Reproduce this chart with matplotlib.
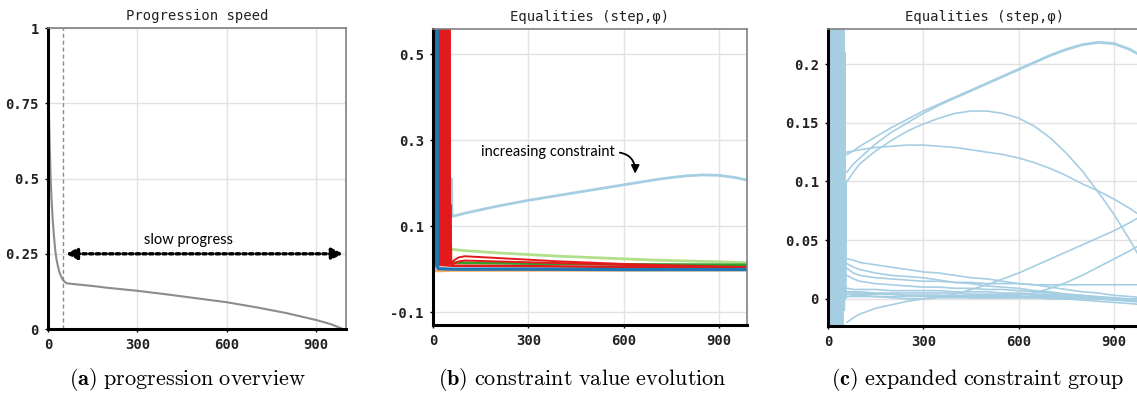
import matplotlib
matplotlib.use("Agg")
import matplotlib.pyplot as plt

plt.rcParams["mathtext.fontset"] = "cm"
MONO = "DejaVu Sans Mono"
SANS = "Lato"

# ---- (a) progression speed ----
prog_step = [0, 2, 4, 6, 9, 12, 16, 20, 24, 28, 33, 38, 44, 50, 56, 63, 80, 100, 150, 200,
             300, 400, 500, 600, 700, 800, 900, 950, 990]
prog_speed = [0.87, 0.78, 0.68, 0.6, 0.5, 0.43, 0.36, 0.31, 0.265, 0.235, 0.21, 0.19, 0.175,
              0.163, 0.157, 0.152, 0.15, 0.148, 0.143, 0.137, 0.127, 0.115, 0.102, 0.089,
              0.072, 0.053, 0.03, 0.016, 0.0]
slow_start = 52
slow_level = 0.25

# ---- (b) constraint values ----
red1_x = [16, 18, 20, 22, 24, 26, 28, 30, 32, 34, 36, 38, 40, 42, 44, 46, 48, 50, 52, 54,
          58, 65, 80, 100, 150, 200, 300, 400, 500, 600, 700, 800, 900, 988]
red1_y = [0.60, 0.02, 0.60, 0.03, 0.60, 0.02, 0.60, 0.01, 0.60, 0.02, 0.60, 0.015, 0.60, 0.02,
          0.60, 0.01, 0.60, 0.015, 0.60, 0.012,
          0.012, 0.02, 0.027, 0.03, 0.028, 0.026, 0.022, 0.018, 0.015, 0.012, 0.01, 0.008,
          0.006, 0.005]
red2_x = [17, 19, 21, 23, 25, 27, 29, 31, 33, 35, 37, 39, 41, 43, 45, 47, 49, 51, 53, 55,
          58, 80, 100, 200, 300, 500, 700, 988]
red2_y = [0.02, 0.60, 0.01, 0.60, 0.02, 0.60, 0.015, 0.60, 0.02, 0.60, 0.01, 0.60, 0.14, 0.60,
          0.02, 0.60, 0.12, 0.60, 0.015, 0.15,
          0.01, 0.018, 0.02, 0.018, 0.016, 0.012, 0.008, 0.004]
red3_x = [20, 60, 300, 600, 988]
red3_y = [0.01, 0.008, 0.007, 0.005, 0.003]
blue_x = [0, 2, 4, 6, 8, 10, 12, 14, 18, 60, 300, 600, 988]
blue_y = [0.60, 0.05, 0.60, 0.02, 0.60, 0.01, 0.60, 0.005, 0.001, 0.0, 0.0, -0.001, -0.001]
lgreen_x = [16, 18, 20, 22, 26, 40, 60, 100, 200, 300, 400, 500, 600, 700, 800, 900, 988]
lgreen_y = [0.01, 0.13, 0.02, 0.05, 0.048, 0.047, 0.046, 0.043, 0.038, 0.034, 0.03, 0.027,
            0.024, 0.021, 0.019, 0.017, 0.015]
green_x = [0, 60, 300, 600, 988]
green_y = [0.014, 0.015, 0.013, 0.011, 0.01]
orange_x = [0, 3, 6, 10, 20, 60, 988]
orange_y = [0.11, 0.03, 0.0, -0.004, -0.004, -0.003, -0.002]
lblue_early_x = [5, 7, 9, 11, 13, 20, 30, 44, 46, 48, 50, 52, 54, 56, 58]
lblue_early_y = [0.60, 0.1, 0.60, 0.01, 0.15, 0.01, 0.01, 0.02, 0.13, 0.02, 0.21, 0.12, 0.20,
                 0.12, 0.21]

# ---- (c) expanded group (light blue) ----
c_x = [60, 80, 100, 150, 200, 250, 300, 350, 400, 450, 500, 550, 600, 650, 700, 750, 800,
       850, 900, 950, 988]
rise = [0.123, 0.126, 0.13, 0.138, 0.146, 0.153, 0.16, 0.166, 0.172, 0.178, 0.184, 0.19,
        0.196, 0.202, 0.208, 0.213, 0.217, 0.219, 0.218, 0.213, 0.207]
rise_twin = [0.108, 0.115, 0.12, 0.132, 0.142, 0.15, 0.158, 0.165, 0.171, 0.177, 0.183, 0.189,
             0.195, 0.201, 0.207, 0.212, 0.216, 0.218, 0.217, 0.212, 0.206]
arch = [0.1, 0.108, 0.115, 0.126, 0.135, 0.143, 0.149, 0.154, 0.158, 0.16, 0.16, 0.158, 0.154,
        0.147, 0.137, 0.124, 0.109, 0.091, 0.072, 0.05, 0.032]
flat = [0.125, 0.126, 0.127, 0.129, 0.13, 0.131, 0.131, 0.13, 0.129, 0.127, 0.125, 0.123,
        0.12, 0.116, 0.111, 0.105, 0.098, 0.092, 0.085, 0.077, 0.07]
late_rise1 = [0.004, 0.003, 0.003, 0.002, 0.001, 0.0, 0.0, 0.002, 0.004, 0.008, 0.012, 0.017,
              0.022, 0.028, 0.034, 0.04, 0.046, 0.052, 0.058, 0.065, 0.071]
late_rise2 = [0.006, 0.005, 0.005, 0.004, 0.004, 0.003, 0.003, 0.003, 0.002, 0.002, 0.002,
              0.002, 0.003, 0.005, 0.009, 0.014, 0.02, 0.027, 0.034, 0.041, 0.047]
decay_a = [0.034, 0.033, 0.031, 0.029, 0.027, 0.025, 0.023, 0.022, 0.02, 0.018, 0.017, 0.015,
           0.013, 0.012, 0.01, 0.008, 0.006, 0.005, 0.003, 0.002, 0.001]
decay_b = [0.03, 0.027, 0.025, 0.022, 0.02, 0.019, 0.018, 0.016, 0.014, 0.013, 0.011, 0.01,
           0.009, 0.007, 0.006, 0.004, 0.003, 0.001, 0.0, -0.001, -0.002]
decay_c = [0.026, 0.022, 0.02, 0.018, 0.017, 0.016, 0.015, 0.015, 0.014, 0.014, 0.013, 0.013,
           0.013, 0.012, 0.012, 0.012, 0.012, 0.012, 0.012, 0.012, 0.012]
decay_d = [0.02, 0.017, 0.015, 0.013, 0.012, 0.011, 0.01, 0.01, 0.009, 0.009, 0.008, 0.008,
           0.007, 0.006, 0.005, 0.004, 0.003, 0.002, 0.001, 0.0, -0.001]
band1 = [0.009, 0.008, 0.008, 0.008, 0.007, 0.007, 0.007, 0.007, 0.006, 0.006, 0.006, 0.005,
         0.005, 0.004, 0.004, 0.003, 0.002, 0.001, 0.0, -0.001, -0.002]
band2 = [0.006, 0.006, 0.006, 0.005, 0.005, 0.005, 0.005, 0.005, 0.005, 0.004, 0.004, 0.004,
         0.004, 0.003, 0.003, 0.002, 0.001, 0.0, -0.001, -0.002, -0.003]
band3 = [0.004, 0.004, 0.004, 0.004, 0.004, 0.003, 0.003, 0.003, 0.003, 0.003, 0.003, 0.003,
         0.002, 0.002, 0.002, 0.001, 0.001, 0.0, 0.0, 0.0, 0.0]
band4 = [0.002, 0.002, 0.002, 0.002, 0.002, 0.002, 0.002, 0.002, 0.002, 0.001, 0.001, 0.001,
         0.001, 0.001, 0.0, 0.0, -0.001, -0.002, -0.003, -0.004, -0.005]
negative = [-0.02, -0.016, -0.013, -0.008, -0.005, -0.002, 0.0, 0.001, 0.001, 0.001, 0.001,
            0.001, 0.001, 0.001, 0.001, 0.0, 0.0, 0.0, -0.001, -0.001, -0.001]

c_spike_x = [0, 2, 4, 6, 8, 10, 12, 14, 16, 18, 20, 22, 24, 26, 28, 30, 32, 34, 36, 38, 40,
             42, 44, 46, 48, 50, 52, 54, 56, 58]
spike1 = [0.25, -0.03, 0.25, -0.03, 0.25, -0.03, 0.25, -0.03, 0.25, -0.03, 0.25, -0.03, 0.25,
          -0.03, 0.25, -0.03, 0.25, -0.03, 0.25, -0.03, 0.25, -0.03, 0.25, -0.03, 0.12, 0.0,
          0.03, 0.0, 0.01, 0.005]
spike2 = [-0.03, 0.19, -0.03, 0.25, 0.02, 0.25, -0.03, 0.18, -0.03, 0.25, -0.03, 0.25, 0.01,
          0.25, -0.03, 0.2, -0.03, 0.25, -0.03, 0.25, -0.03, 0.25, -0.03, 0.25, -0.03, 0.25,
          -0.01, 0.21, 0.0, 0.1]

RED, BLUE, LBLUE = "#e31a1c", "#1f78b4", "#a6cee3"
GREEN, LGREEN, ORANGE = "#33a02c", "#b2df8a", "#fdae61"


def style_axes(ax, xlim, ylim, yticks, ylabels, title):
    ax.set_xlim(xlim)
    ax.set_ylim(ylim)
    ax.set_xticks([0, 300, 600, 900])
    ax.set_xticklabels(["0", "300", "600", "900"])
    ax.set_yticks(yticks)
    ax.set_yticklabels(ylabels)
    ax.grid(True, color="#e2e2e2", lw=1)
    ax.set_axisbelow(True)
    for s in ["left", "bottom"]:
        ax.spines[s].set_linewidth(2.2)
        ax.spines[s].set_color("black")
    for s in ["top", "right"]:
        ax.spines[s].set_linewidth(1.2)
        ax.spines[s].set_color("#808080")
    ax.tick_params(length=2.5, width=1, pad=4, labelsize=10, labelcolor="#222222")
    for lab in ax.get_xticklabels() + ax.get_yticklabels():
        lab.set_family(MONO)
        lab.set_weight("bold")
    ax.set_title(title, family=MONO, fontsize=10, pad=6, color="#222222")


fig = plt.figure(figsize=(11.37, 3.95), dpi=100)
ax_a = fig.add_axes([0.0422, 0.167, 0.2621, 0.762])
ax_b = fig.add_axes([0.3808, 0.177, 0.2762, 0.7494])
ax_c = fig.add_axes([0.7282, 0.175, 0.2762, 0.7519])

# (a)
ax_a.plot(prog_step, prog_speed, color="#8c8c8c", lw=1.5)
ax_a.axvline(slow_start, color="#8c8c8c", lw=1, ls=(0, (3, 2)))
ax_a.annotate("", xy=(prog_step[-1], slow_level), xytext=(slow_start + 8, slow_level),
              arrowprops=dict(arrowstyle="<|-|>", lw=2.4, ls=(0, (1, 1)), color="black",
                              mutation_scale=16, shrinkA=0, shrinkB=0))
ax_a.text(470, slow_level + 0.047, "slow progress", family=SANS, fontsize=10.5,
          ha="center", va="center")
style_axes(ax_a, (0, 1000), (0, 1), [0, 0.25, 0.5, 0.75, 1],
           ["0", "0.25", "0.5", "0.75", "1"], "Progression speed")

# (b)
ax_b.plot(lblue_early_x + c_x, lblue_early_y + rise, color=LBLUE, lw=2)
ax_b.plot(orange_x, orange_y, color=ORANGE, lw=2)
ax_b.plot(lgreen_x, lgreen_y, color=LGREEN, lw=2)
ax_b.plot(green_x, green_y, color=GREEN, lw=2)
ax_b.plot(red3_x, red3_y, color=RED, lw=1.8)
ax_b.plot(red2_x, red2_y, color=RED, lw=1.4)
ax_b.plot(red1_x, red1_y, color=RED, lw=1.4)
ax_b.plot(blue_x, blue_y, color=BLUE, lw=2.4)
ax_b.annotate("increasing constraint", xy=(636, 0.222), xytext=(360, 0.272),
              family=SANS, fontsize=10.5, ha="center", va="center",
              arrowprops=dict(arrowstyle="-|>", color="black", lw=1.3,
                              connectionstyle="arc3,rad=-0.5", relpos=(1, 0.5),
                              shrinkA=2, shrinkB=0, mutation_scale=12))
style_axes(ax_b, (0, 988), (-0.130, 0.558), [-0.1, 0.1, 0.3, 0.5],
           ["-0.1", "0.1", "0.3", "0.5"], "Equalities (step,φ)")

# (c)
ax_c.plot(c_spike_x, spike1, color=LBLUE, lw=0.9)
ax_c.plot(c_spike_x, spike2, color=LBLUE, lw=0.9)
for series in [rise, rise_twin, arch, flat, late_rise1, late_rise2, decay_a, decay_b,
               decay_c, decay_d, band1, band2, band3, band4, negative]:
    ax_c.plot(c_x, series, color=LBLUE, lw=1.2)
style_axes(ax_c, (0, 988), (-0.023, 0.23), [0, 0.05, 0.1, 0.15, 0.2],
           ["0", "0.05", "0.1", "0.15", "0.2"], "Equalities (step,φ)")

# captions
fig.text(0.1645, 0.038, r"$\mathbf{(a)}\ \mathrm{progression\ overview}$", fontsize=16,
         ha="center", va="center")
fig.text(0.512, 0.038, r"$\mathbf{(b)}\ \mathrm{constraint\ value\ evolution}$", fontsize=16,
         ha="center", va="center")
fig.text(0.8597, 0.038, r"$\mathbf{(c)}\ \mathrm{expanded\ constraint\ group}$", fontsize=16,
         ha="center", va="center")

fig.savefig("out.png", dpi=100)
